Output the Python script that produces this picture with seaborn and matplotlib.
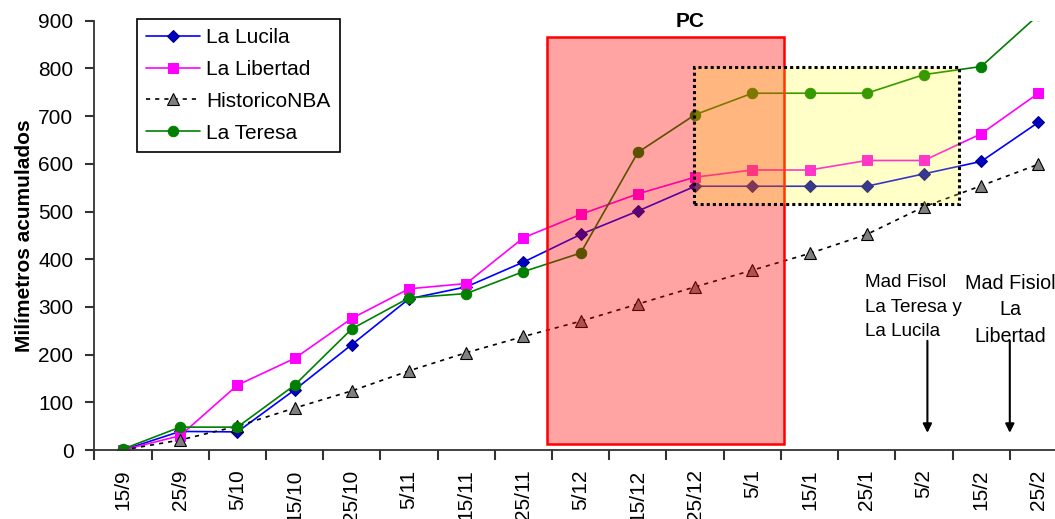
import numpy as np
import matplotlib
matplotlib.use("Agg")
import matplotlib.pyplot as plt
import seaborn as sns
from matplotlib.patches import Rectangle

# ---- data ----
dates = ['15/9', '25/9', '5/10', '15/10', '25/10', '5/11', '15/11', '25/11',
         '5/12', '15/12', '25/12', '5/1', '15/1', '25/1', '5/2', '15/2', '25/2']
la_lucila = [0, 39, 38, 126, 221, 317, 342, 394, 452, 501, 553, 553, 553, 553, 579, 605, 687]
la_libertad = [0, 30, 136, 192, 276, 338, 349, 445, 494, 537, 572, 587, 587, 607, 607, 663, 748]
historico_nba = [0, 21, 50, 88, 124, 166, 204, 238, 270, 306, 342, 377, 412, 452, 510, 554, 599]
la_teresa = [2, 48, 48, 136, 254, 319, 328, 374, 413, 624, 703, 748, 748, 748, 787, 804, 912]
y_ticks = [0, 100, 200, 300, 400, 500, 600, 700, 800, 900]

sns.set_theme(style="white")
plt.rcParams['font.family'] = ['Liberation Sans', 'DejaVu Sans']
plt.rcParams.update({"text.color": "black", "axes.labelcolor": "black",
                     "xtick.color": "black", "ytick.color": "black"})

fig = plt.figure(figsize=(10.55, 5.19), dpi=100)
ax = fig.add_axes([0.0894, 0.1329, 0.9106, 0.8272])

styles = [
    ("La Lucila", la_lucila, dict(color="#0000FF", marker="D", markersize=6.5,
                                  markerfacecolor="#0000C0", markeredgecolor="#000080",
                                  linestyle="-")),
    ("La Libertad", la_libertad, dict(color="#FF00FF", marker="s", markersize=7,
                                      markerfacecolor="#FF00FF", markeredgecolor="#FF00FF",
                                      linestyle="-")),
    ("HistoricoNBA", historico_nba, dict(color="black", marker="^", markersize=8,
                                         markerfacecolor="#808080", markeredgecolor="black",
                                         markeredgewidth=0.8, linestyle=(0, (2.5, 3)))),
    ("La Teresa", la_teresa, dict(color="#008000", marker="o", markersize=7.5,
                                  markerfacecolor="#008000", markeredgecolor="#008000",
                                  linestyle="-")),
]
for name, vals, kw in styles:
    sns.lineplot(x=dates, y=vals, ax=ax, label=name, sort=False, linewidth=1.2,
                 zorder=2, **kw)

# overlays
ax.add_patch(Rectangle((7.41, 12), 11.556 - 7.41, 865 - 12, facecolor=(1, 0, 0, 0.36),
                       edgecolor="#FF0000", linewidth=1.8, zorder=3))
ax.add_patch(Rectangle((9.98, 516), 14.61 - 9.98, 804 - 516, facecolor=(1, 1, 0, 0.22),
                       edgecolor="black", linewidth=2.2, linestyle=(0, (1, 1)), zorder=3.5))
ax.text(9.91, 898, "PC", fontsize=15, fontweight="bold", ha="center", va="center",
        clip_on=False, zorder=5)

# annotations
ax.text(12.97, 368, "Mad Fisol\nLa Teresa y\nLa Lucila", fontsize=13.6, ha="left",
        va="top", linespacing=1.55, clip_on=False)
ax.text(15.51, 370, "Mad Fisiol\nLa\nLibertad", fontsize=14.2, ha="center", va="top",
        multialignment="center", linespacing=1.5, clip_on=False)
for xa in (14.06, 15.5):
    ax.annotate("", xy=(xa, 36), xytext=(xa, 229),
                arrowprops=dict(arrowstyle="-|>", color="black", lw=1.5,
                                mutation_scale=13, shrinkA=0, shrinkB=0))

# axes
ax.set_yticks(y_ticks)
ax.set_xticks(range(len(dates)))
ax.set_xticklabels(dates, rotation=90)
ax.set_xticks(np.arange(-0.5, len(dates), 1), minor=True)
ax.set_xlim(-0.5, 16.29)
ax.set_ylim(0, 900)
ax.tick_params(axis="x", which="major", length=0, pad=14, labelsize=15)
ax.tick_params(axis="x", which="minor", length=7, width=1.5, direction="out",
               color="#333333", bottom=True)
ax.tick_params(axis="y", length=6.5, width=1.5, direction="out", pad=8.5, labelsize=15,
               color="#333333", left=True)
for s in ("top", "right"):
    ax.spines[s].set_visible(False)
for s in ("left", "bottom"):
    ax.spines[s].set_color("#333333")
    ax.spines[s].set_linewidth(1.3)
ax.set_xlabel("")
ax.set_ylabel("Milímetros acumulados", fontsize=15, fontweight="bold")
ax.yaxis.set_label_coords(-0.063, 0.5)
ax.grid(False)

leg = ax.legend(loc="upper left", bbox_to_anchor=(0.044, 1.005), fontsize=15,
                frameon=True, fancybox=False, framealpha=1, edgecolor="black",
                handlelength=2.6, labelspacing=0.62, handletextpad=0.3,
                borderpad=0.45, borderaxespad=0)
leg.get_frame().set_linewidth(1.2)
leg.set_zorder(6)

fig.savefig("out.png", dpi=100)
